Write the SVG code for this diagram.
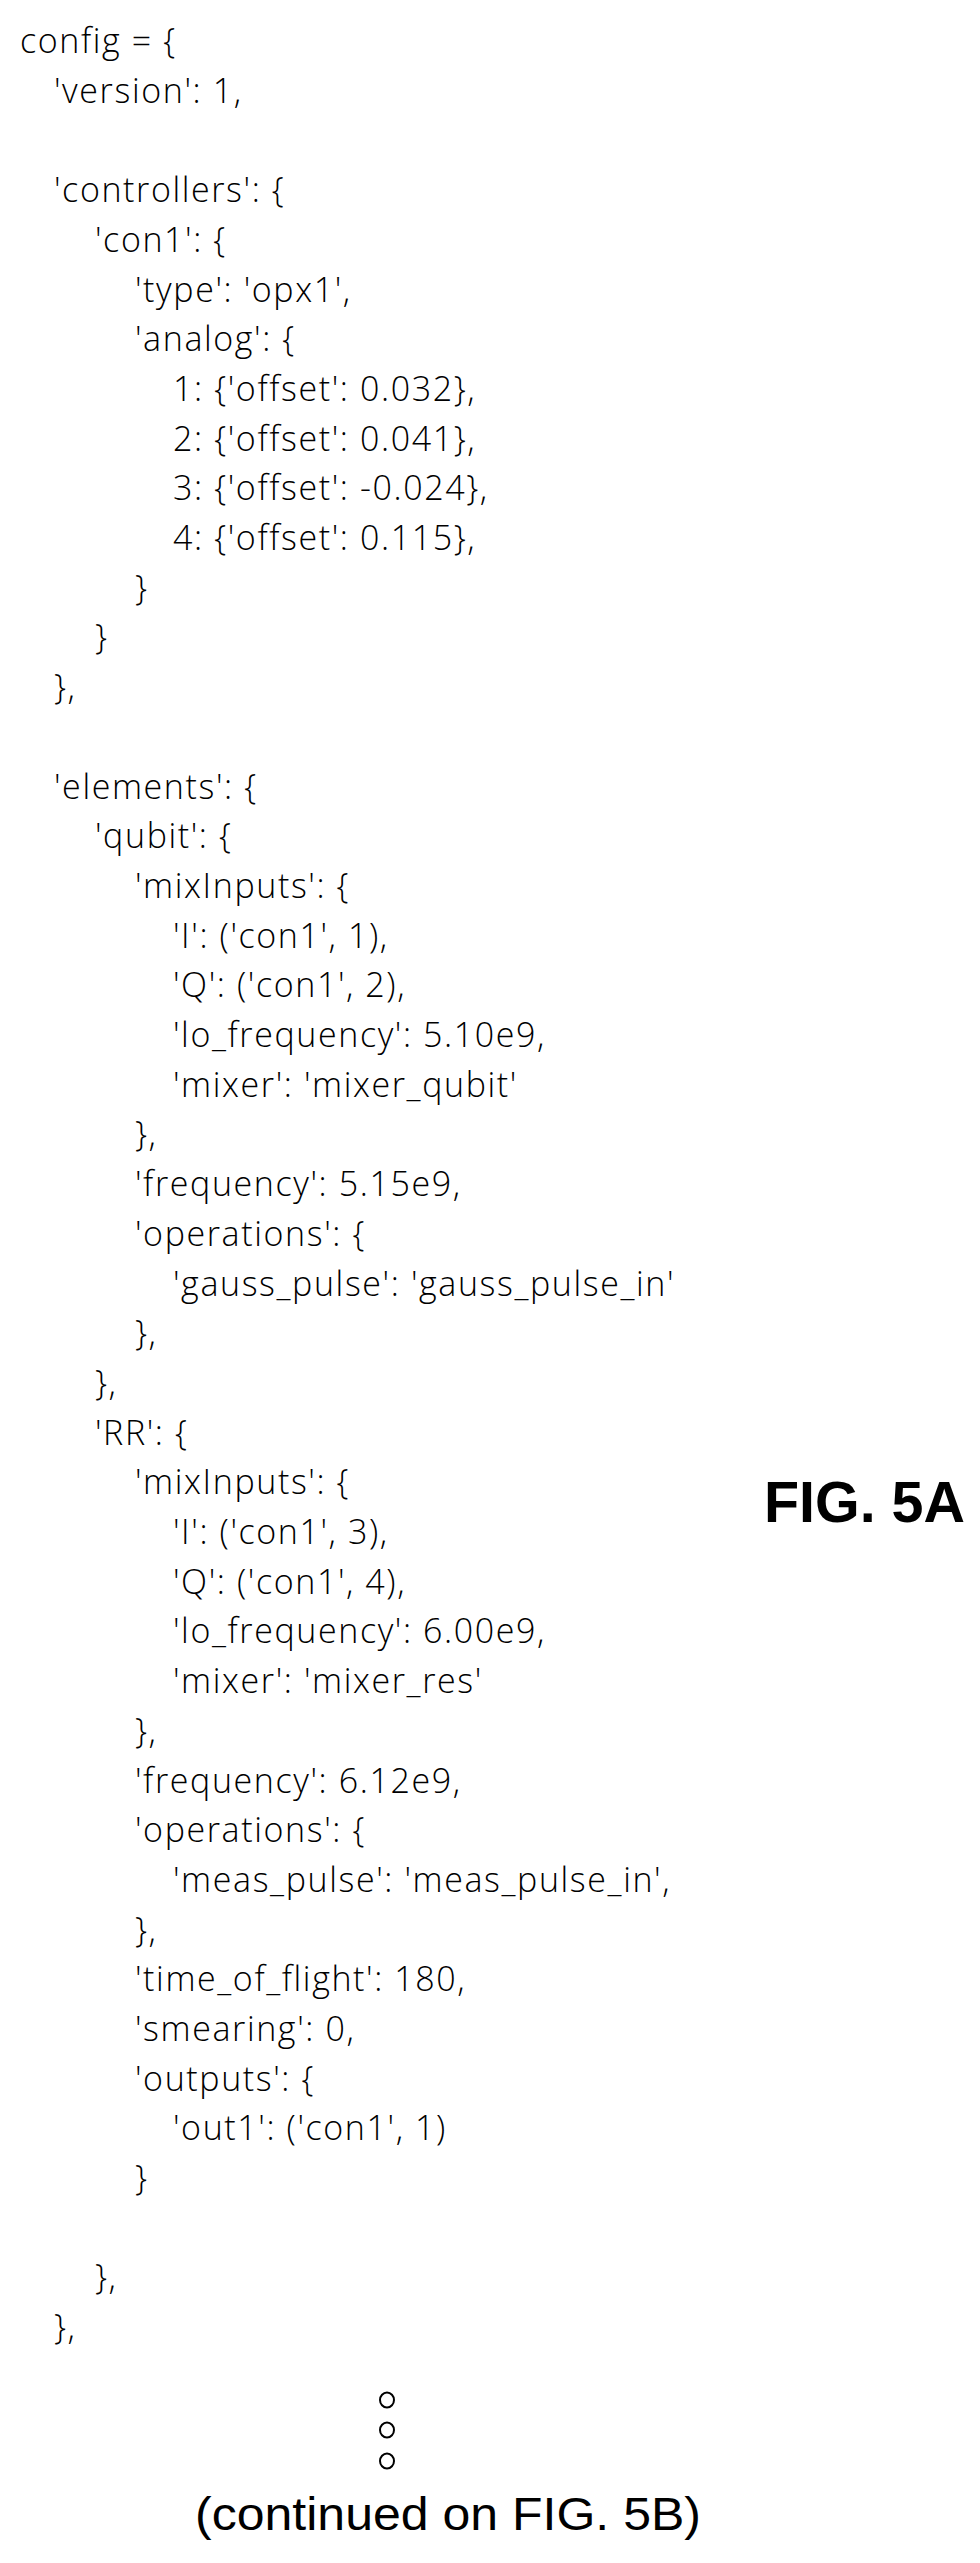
<svg xmlns="http://www.w3.org/2000/svg" width="980" height="2563" viewBox="0 0 980 2563">
<style>
.c{font-family:"Open Sans","Liberation Sans",sans-serif;font-size:34px;font-weight:300;letter-spacing:1.6px;fill:#000}
.f{font-family:"Liberation Sans",Arial,sans-serif;fill:#000}
</style>
<rect width="980" height="2563" fill="#fff"/>
<g id="code" class="c">
<text x="20" y="53">config = {</text>
<text x="54" y="103">'version': 1,</text>
<text x="54" y="202">'controllers': {</text>
<text x="95" y="252">'con1': {</text>
<text x="135" y="302">'type': 'opx1',</text>
<text x="135" y="351">'analog': {</text>
<text x="173" y="401">1: {'offset': 0.032},</text>
<text x="173" y="451">2: {'offset': 0.041},</text>
<text x="173" y="500">3: {'offset': -0.024},</text>
<text x="173" y="550">4: {'offset': 0.115},</text>
<text x="135" y="600">}</text>
<text x="95" y="649">}</text>
<text x="54" y="699">},</text>
<text x="54" y="799">'elements': {</text>
<text x="95" y="848">'qubit': {</text>
<text x="135" y="898">'mixInputs': {</text>
<text x="173" y="948">'I': ('con1', 1),</text>
<text x="173" y="997">'Q': ('con1', 2),</text>
<text x="173" y="1047">'lo_frequency': 5.10e9,</text>
<text x="173" y="1097">'mixer': 'mixer_qubit'</text>
<text x="135" y="1146">},</text>
<text x="135" y="1196">'frequency': 5.15e9,</text>
<text x="135" y="1246">'operations': {</text>
<text x="173" y="1296">'gauss_pulse': 'gauss_pulse_in'</text>
<text x="135" y="1345">},</text>
<text x="95" y="1395">},</text>
<text x="95" y="1445">'RR': {</text>
<text x="135" y="1494">'mixInputs': {</text>
<text x="173" y="1544">'I': ('con1', 3),</text>
<text x="173" y="1594">'Q': ('con1', 4),</text>
<text x="173" y="1643">'lo_frequency': 6.00e9,</text>
<text x="173" y="1693">'mixer': 'mixer_res'</text>
<text x="135" y="1743">},</text>
<text x="135" y="1793">'frequency': 6.12e9,</text>
<text x="135" y="1842">'operations': {</text>
<text x="173" y="1892">'meas_pulse': 'meas_pulse_in',</text>
<text x="135" y="1942">},</text>
<text x="135" y="1991">'time_of_flight': 180,</text>
<text x="135" y="2041">'smearing': 0,</text>
<text x="135" y="2091">'outputs': {</text>
<text x="173" y="2140">'out1': ('con1', 1)</text>
<text x="135" y="2190">}</text>
<text x="95" y="2289">},</text>
<text x="54" y="2339">},</text>
</g>
<g id="fig-label">
<text class="f" x="764" y="1522" font-size="58" font-weight="bold" textLength="201" lengthAdjust="spacingAndGlyphs">FIG. 5A</text>
</g>
<g id="continuation" fill="none" stroke="#000" stroke-width="2">
<ellipse cx="387" cy="2400" rx="7" ry="7.5"/>
<ellipse cx="387" cy="2430" rx="7" ry="7.5"/>
<ellipse cx="387" cy="2461" rx="7" ry="7.5"/>
</g>
<g id="continued-text">
<text class="f" x="195" y="2530" font-size="46" textLength="506" lengthAdjust="spacingAndGlyphs">(continued on FIG. 5B)</text>
</g>
</svg>
